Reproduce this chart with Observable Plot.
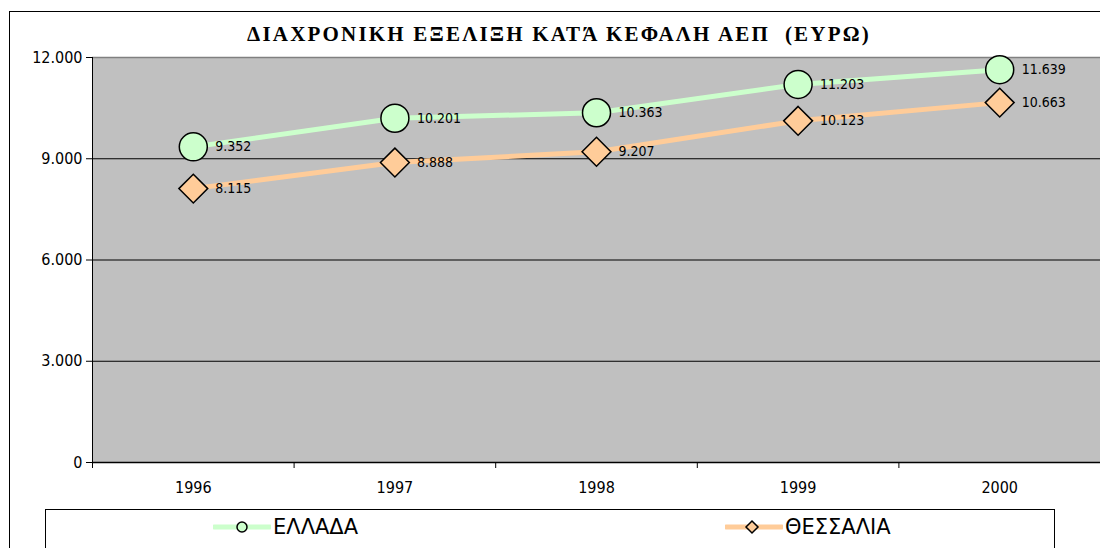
<!DOCTYPE html>
<html><head><meta charset="utf-8">
<script src="https://cdn.jsdelivr.net/npm/d3@7"></script>
<script src="https://cdn.jsdelivr.net/npm/@observablehq/plot@0.6"></script>
<style>
body{margin:0;background:#fff;overflow:hidden;}
#wrap{position:relative;width:1100px;height:548px;overflow:hidden;font-family:"DejaVu Sans",sans-serif;}
#border{position:absolute;left:9px;top:11px;width:1200px;height:600px;border:1px solid #000;box-sizing:border-box;}
#title{position:absolute;left:0;width:1118px;top:22px;text-align:center;font-family:"Liberation Serif","Times New Roman",serif;font-weight:bold;font-size:21px;letter-spacing:2.2px;white-space:pre;}
#chart{position:absolute;left:0;top:0;}
#legend{position:absolute;left:45px;top:509px;width:1010px;height:60px;border:1px solid #000;box-sizing:border-box;background:#fff;}
.item{position:absolute;top:5px;height:24px;display:flex;align-items:center;font-size:21px;}
.item svg{margin-right:2px;}
</style></head>
<body>
<div id="wrap">
  <div id="border"></div>
  <div id="chart"></div>
  <div id="title"></div>
  <div id="legend"></div>
</div>
<script>
const years = [1996, 1997, 1998, 1999, 2000];
const ellada = [9352, 10201, 10363, 11203, 11639];
const thessalia = [8115, 8888, 9207, 10123, 10663];
const seriesNames = ["ΕΛΛΑΔΑ", "ΘΕΣΣΑΛΙΑ"];
const seriesColors = ["#ccffcc", "#ffcc99"];
const yTicks = [0, 3000, 6000, 9000, 12000];
const titleText = "ΔΙΑΧΡΟΝΙΚΗ ΕΞΕΛΙΞΗ ΚΑΤΆ ΚΕΦΑΛΗ ΑΕΠ  (ΕΥΡΩ)";

const fmt = d3.formatLocale({decimal: ",", thousands: ".", grouping: [3], currency: ["", "€"]}).format(",d");
const dataA = years.map((y, i) => ({year: y, value: ellada[i]}));
const dataB = years.map((y, i) => ({year: y, value: thessalia[i]}));
const boundaries = years.map(y => y - 0.5).concat([years[years.length - 1] + 0.5]);

document.getElementById("title").textContent = titleText;

const cond = "DejaVu Sans Condensed, DejaVu Sans, sans-serif";
const chart = Plot.plot({
  width: 1100, height: 548,
  marginTop: 57, marginBottom: 86, marginLeft: 92, marginRight: 0,
  style: {fontFamily: cond, background: "transparent", overflow: "visible"},
  x: {domain: [years[0] - 0.5, years[years.length - 1] + 0.5]},
  y: {domain: [0, 12000]},
  marks: [
    Plot.frame({fill: "#c0c0c0", stroke: null}),
    Plot.ruleY(yTicks.filter(v => v > 0 && v < 12000), {stroke: "#000", strokeWidth: 1}),
    Plot.ruleY([12000], {stroke: "#808080", strokeWidth: 1.5}),
    Plot.ruleX([boundaries[0]], {stroke: "#000", strokeWidth: 1}),
    Plot.ruleY([0], {stroke: "#000", strokeWidth: 1.5}),
    Plot.axisY({ticks: yTicks, tickFormat: fmt, tickSize: 6, tickPadding: 4, fontSize: 16, fontFamily: cond, label: null, stroke: "#000"}),
    Plot.axisX({ticks: years, tickFormat: d => String(d), tickSize: 0, tickPadding: 19, fontSize: 16, fontFamily: cond, label: null}),
    Plot.axisX({ticks: boundaries, tickFormat: () => "", tickSize: 6, label: null, stroke: "#000"}),
    Plot.line(dataA, {x: "year", y: "value", stroke: seriesColors[0], strokeWidth: 5}),
    Plot.line(dataB, {x: "year", y: "value", stroke: seriesColors[1], strokeWidth: 5}),
    Plot.dot(dataA, {x: "year", y: "value", r: 14, fill: seriesColors[0], stroke: "#000", strokeWidth: 1.5, symbol: "circle"}),
    Plot.dot(dataB, {x: "year", y: "value", r: 13, fill: seriesColors[1], stroke: "#000", strokeWidth: 1.5, symbol: "diamond2"}),
    Plot.text(dataA, {x: "year", y: "value", text: d => fmt(d.value), dx: 22, textAnchor: "start", fontSize: 14, fontFamily: cond, fill: "#000"}),
    Plot.text(dataB, {x: "year", y: "value", text: d => fmt(d.value), dx: 22, textAnchor: "start", fontSize: 14, fontFamily: cond, fill: "#000"})
  ]
});
document.getElementById("chart").appendChild(chart);

// legend
const legend = document.getElementById("legend");
const positions = [167, 679];
seriesNames.forEach((name, i) => {
  const div = document.createElement("div");
  div.className = "item";
  div.style.left = positions[i] + "px";
  const marker = i === 0
    ? `<circle cx="29" cy="12" r="5" fill="${seriesColors[i]}" stroke="#000" stroke-width="1.5"/>`
    : `<path d="M27,6 L33,12 L27,18 L21,12 Z" fill="${seriesColors[i]}" stroke="#000" stroke-width="1.5"/>`;
  div.innerHTML = `<svg width="58" height="24"><line x1="1" x2="57" y1="12" y2="12" stroke="${seriesColors[i]}" stroke-width="5" stroke-linecap="round"/>${marker}</svg><span>${name}</span>`;
  legend.appendChild(div);
});
</script>
</body></html>
